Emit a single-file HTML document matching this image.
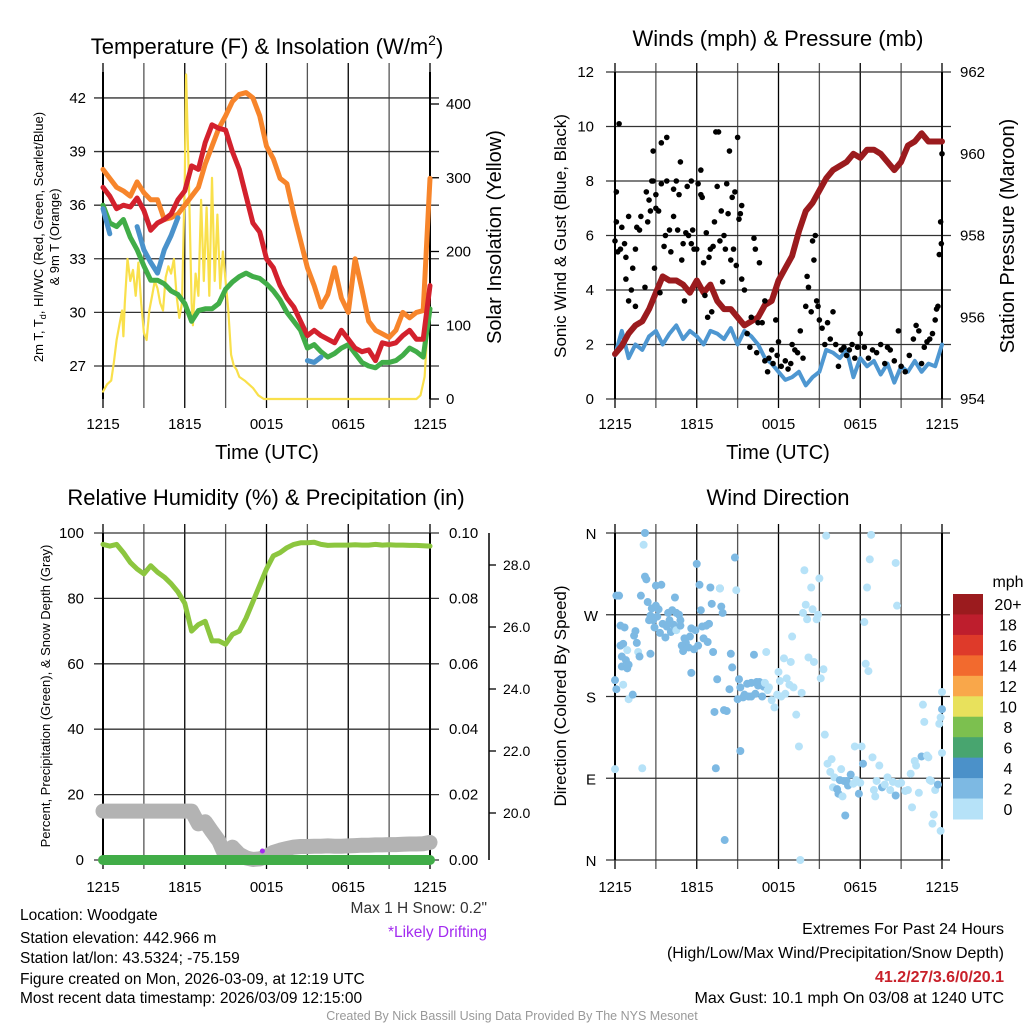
<!DOCTYPE html>
<html><head><meta charset="utf-8"><style>
body{margin:0;background:#fff;}
svg text{font-family:"Liberation Sans",sans-serif;}
</style></head><body>
<svg id="s" width="1024" height="1024" viewBox="0 0 1024 1024" xmlns="http://www.w3.org/2000/svg">
<rect width="1024" height="1024" fill="#fff"/>
<g id="g"></g>
</svg>
<script>
// ---- data (hours since 1215 UTC, half-hour steps) ----
const hours = [];
for (let i = 0; i <= 48; i++) hours.push(i / 2);
const tempOrange = [38,37.5,37,36.8,36.5,37.3,36.7,36.3,36.3,35.2,35.3,35.5,36,36.5,37,38.3,39.3,40.3,41,41.8,42.2,42.3,42,41,39.3,38.6,37.5,37.2,35.5,34,32.5,31.5,30.3,31,32.5,30.8,30,33,31.3,29.5,29,28.8,28.6,29,30,29.7,30,30.1,37.5];
const tempRed = [37,36.5,35.8,36,35.9,36.4,35.7,34.6,35,35.2,35.5,36.3,36.8,38.2,38,39.5,40.5,40.3,40.2,39,38,36.5,35,34.5,33,32.5,31.5,30.8,30.3,29.5,28.7,29,28.7,28.5,28.3,29,28.5,28,27.8,27.9,27.3,28.3,28.2,28.3,28.7,29,28.5,28.5,31.5];
const tempGreen = [36,35,34.8,35.2,34.2,33.5,32.6,31.8,31.8,31.6,31.2,31,30.5,29.5,30.1,30.2,30.2,30.5,31.3,31.7,32,32.2,32,31.9,31.6,31.2,30.7,30,29.5,29,28,28.2,27.8,27.5,27.7,28,28.2,27.7,27.2,27,26.9,27.2,27.2,27.3,27.6,28,27.8,27.5,30.2];
const tempBlue = [35.8,34.4,null,null,null,34.8,33.5,32.8,32.2,33.5,34.3,35.3,null,36.7,null,38.3,null,38.8,null,null,null,null,null,null,null,null,null,null,null,null,27.3,27.2,27.5,null,null,null,null,null,null,null,null,null,null,null,null,null,null,null,null];
const solarHours = [0,0.3,0.6,0.8,1,1.2,1.4,1.5,1.6,1.8,2,2.2,2.4,2.6,2.8,3,3.2,3.4,3.6,3.8,4,4.2,4.4,4.6,4.8,5,5.2,5.4,5.6,5.8,6,6.1,6.3,6.5,6.6,6.8,7,7.2,7.4,7.6,7.8,8,8.2,8.4,8.6,8.8,9,9.2,9.4,9.6,9.8,10,10.4,11,11.4,11.8,23,23.3,23.6,23.8,24];
const solarVals = [10,20,25,50,80,100,120,85,130,190,160,175,140,185,130,90,80,120,140,160,150,130,120,165,180,170,190,140,110,130,300,440,300,130,100,170,140,270,160,260,140,300,160,250,150,200,160,120,60,45,40,30,25,15,5,0,0,5,30,90,150];
const pressure = [955.1,955.3,955.6,955.8,955.9,956.2,956.6,957,956.9,956.9,956.8,956.6,956.9,956.6,956.8,956.4,956.2,956.2,956,955.8,955.9,956,956.3,956.4,956.9,957.2,957.5,958.1,958.6,958.8,959.1,959.4,959.6,959.7,959.8,960,959.9,960.1,960.1,960,959.8,959.6,959.8,960.2,960.3,960.5,960.3,960.3,960.3];
const windSpeed = [1.6,2.5,1.5,2,1.8,2.3,2.5,2,2.4,2.7,2.2,2.5,2.3,2,2.5,2.4,2.2,2.6,2,2.5,2.3,2,1.5,1.3,1,0.7,0.8,1,0.5,0.8,1,1.8,1.7,1.5,1.8,0.8,1.5,1.2,1.4,0.9,1.3,0.6,1.2,1,1.4,1,1.3,1.2,2];
const gustHours = [0,0.1,0.1,0.3,0.2,0.4,0.5,0.7,0.8,0.8,1,1,1.2,1.3,1.5,1.5,1.6,1.8,1.9,2.2,2.3,2.4,2.5,2.6,2.7,2.8,2.8,2.9,3,3,3.2,3.3,3.4,3.4,3.6,3.7,3.8,3.8,4,4.1,4.3,4.3,4.5,4.6,4.7,4.8,4.9,5,5.1,5.2,5.3,5.4,5.6,5.6,5.7,5.8,6,6.1,6.3,6.3,6.4,6.5,6.6,6.7,6.8,6.9,7,7.1,7.2,7.3,7.4,7.5,7.6,7.7,7.8,7.9,8,8.1,8.2,8.3,8.4,8.5,8.6,8.7,8.8,8.9,9,9.1,9.2,9.3,9.3,9.5,9.7,9.9,10,10.2,10.3,10.4,10.5,10.6,10.8,11,11,11.2,11.3,11.5,11.6,11.8,11.9,12,12.2,12.5,12.7,12.9,13,13.2,13.4,13.6,13.8,14,14.1,14.2,14.4,14.5,14.6,14.7,14.8,14.9,15,15.2,15.4,15.6,15.8,16,16.2,16.4,16.6,16.8,17,17.2,17.4,17.6,17.8,18,18.3,18.6,18.9,19.2,19.5,19.8,20,20.2,20.5,20.8,21,21.3,21.6,21.9,22.1,22.3,22.5,22.7,22.9,23.1,23.3,23.5,23.6,23.7,23.8,23.9,23.95,24];
const gustVals = [5.8,7.6,6.5,10.1,5.4,5.5,6.3,5.7,5.2,4.4,6.7,3.6,4,4.8,5.5,3.4,6.3,6.2,6.7,4.1,7.6,6.5,7.3,6.9,8,8,9.1,4.8,7.5,7,6.9,3.9,7.9,9.4,5.6,6,9.6,8,6.2,5.4,7.7,6.7,8,6.2,7.5,8.7,5.1,5.7,3.6,6.1,7.8,6,8,5.7,6.2,5.5,5.5,7.9,8.4,7.5,7.4,5,3.8,6.1,3,5.2,5.5,3.2,5.6,6.5,9.8,7.8,9.8,5.8,6.9,4.3,6,5.5,7.9,6.8,9.1,5.1,7.4,5.5,7.6,4.9,9.6,6.6,6.8,7.1,4.4,4,2.4,1.9,3,5.9,5.5,1.7,2.8,5,2.8,3.6,1.4,1,1.5,1.8,1.3,2.9,1.6,2.1,1.2,1.4,1.1,1.3,2,1.8,1.7,2.5,1.5,3.4,4.5,4.1,3.2,5.8,5.1,6,3.6,3.4,2.9,2.6,2,2.8,2.2,3.2,2,1.2,1.8,1.9,1.6,1.8,2,1.5,1.9,2.4,1.9,1.5,1.8,1.7,2,1.3,1.9,1.8,1.4,2.5,1.2,1,1.6,2.2,2.7,2.5,1.3,1.9,2.1,2.2,2.4,2.9,3.3,3.4,5.3,6.5,5.7,9];
const rh = [96.5,96,96.5,94,91,89,87.5,90,88,86.5,84.5,82,78.5,70,72,73,67,67,66,69,70,74,79,84,89,93,94,95.5,96.5,97,97,97.2,96.5,96.2,96.3,96.3,96.3,96.4,96.3,96.3,96.5,96.3,96.4,96.3,96.3,96.2,96.2,96.1,96];
const snowDepth = [20.06,20.06,20.06,20.06,20.06,20.06,20.06,20.06,20.06,20.06,20.06,20.06,20.06,20.06,19.65,19.72,19.4,19.1,18.6,18.9,18.67,18.55,18.5,18.52,18.6,18.73,18.8,18.85,18.9,18.92,18.92,18.93,18.93,18.94,18.93,18.93,18.94,18.95,18.96,18.96,18.97,18.97,18.98,18.98,18.99,19,19,19.01,19.05];
const precip = [0,0,0,0,0,0,0,0,0,0,0,0,0,0,0,0,0,0,0,0,0,0,0,0,0,0,0,0,0,0,0,0,0,0,0,0,0,0,0,0,0,0,0,0,0,0,0,0,0];
const dirHours = [0,0,0.1,0.1,0.3,0.4,0.4,0.5,0.5,0.6,0.6,0.7,0.8,0.9,0.9,1,1,1.3,1.4,1.5,1.6,1.7,1.8,1.9,2,2.1,2.2,2.2,2.3,2.4,2.5,2.6,2.6,2.7,2.8,2.9,3,3,3.1,3.2,3.3,3.4,3.5,3.7,3.8,3.9,4,4.1,4.2,4.3,4.4,4.5,4.5,4.7,4.8,4.8,4.9,5,5.1,5.2,5.4,5.5,5.6,5.6,5.8,5.9,6,6.1,6.2,6.3,6.4,6.5,6.7,6.8,6.9,7,7.1,7.2,7.3,7.4,7.5,7.7,7.7,7.8,7.9,8,8.05,8.2,8.4,8.5,8.6,8.8,8.9,9,9.1,9.2,9.2,9.4,9.5,9.7,9.8,10,10,10.2,10.3,10.4,10.5,10.6,10.8,10.9,11,11.1,11.2,11.3,11.5,11.7,11.9,12,12.1,12.2,12.4,12.5,12.6,12.8,12.9,13,13.1,13.3,13.5,13.6,13.7,13.8,13.9,14,14.1,14.2,14.4,14.5,14.6,14.8,14.9,15,15.1,15.3,15.4,15.5,15.6,15.8,15.9,16,16.1,16.3,16.4,16.5,16.6,16.7,16.8,16.9,17,17.1,17.3,17.5,17.6,17.7,17.9,18,18.1,18.2,18.3,18.4,18.5,18.6,18.7,18.8,18.9,19,19.1,19.2,19.4,19.6,19.8,20,20.2,20.4,20.6,20.6,20.7,20.8,21,21.3,21.5,21.7,21.8,22,22.1,22.3,22.5,22.6,22.7,22.9,23,23.1,23.2,23.3,23.4,23.5,23.7,23.8,23.9,23.9,24,24,24];
const dirDeg = [100,198,188,291,291,236,258,224,213,238,193,256,220,211,231,215,177,182,247,252,239,229,224,291,101,347,360,312,309,284,264,269,227,277,264,256,280,302,268,276,250,303,260,245,257,272,264,251,275,259,289,272,253,270,264,258,236,230,244,239,234,246,255,206,232,253,326,236,303,275,257,244,258,240,260,300,282,229,163,101,199,299,299,279,272,165,22,164,188,227,212,333,297,177,199,120,190,179,182,194,180,195,180,226,183,196,192,196,180,191,195,229,187,190,176,168,182,207,197,180,222,183,200,193,218,246,190,160,125,0,184,272,319,281,265,223,300,276,218,265,270,310,200,210,138,357,106,97,111,80,91,78,73,88,100,70,87,49,87,82,94,84,125,88,73,85,125,106,262,216,300,208,331,358,113,77,70,87,104,80,83,91,77,86,71,327,280,84,85,76,77,95,58,109,104,74,114,171,152,115,113,88,87,40,50,77,83,150,32,157,118,185,166];
const dirSpeed = [1,3,3,3,3,3,3,3,3,3,1,3,3,3,1,3,1,3,3,3,3,1,3,3,1,1,3,3,3,3,3,3,3,3,3,3,3,3,3,3,3,3,3,3,3,3,3,3,3,3,3,3,1,3,3,3,3,3,3,3,3,3,3,3,3,3,3,3,3,3,3,3,3,3,3,3,3,3,3,3,3,3,1,3,3,3,3,3,3,3,3,3,1,3,3,3,3,3,3,3,3,3,3,3,3,3,3,3,3,3,1,1,1,1,1,1,1,1,1,1,1,1,1,1,1,1,1,1,1,1,1,1,1,1,1,1,1,1,1,1,1,1,1,1,1,1,1,1,1,1,1,3,3,3,1,1,3,3,3,3,3,1,1,1,3,1,1,3,1,1,1,1,1,1,1,1,1,1,1,3,1,1,1,1,3,1,1,1,1,1,1,1,1,1,1,1,3,1,1,1,1,1,1,1,1,1,3,1,1,1,1,1,3,3];
const colorbarLabels = ["20+","18","16","14","12","10","8","6","4","2","0"];
const colorbarColors = ["#9b1b1e","#be1e2d","#de3a2a","#f26a2e","#f9a74a","#e8e15c","#7cc04f","#48a56f","#4b91c9","#7db9e3","#b6e2f8"];
const timeTicks = ["1215","1815","0015","0615","1215"];
const tempTicks = [27,30,33,36,39,42];
const solarTicks = [0,100,200,300,400];
const windTicks = [0,2,4,6,8,10,12];
const presTicks = [954,956,958,960,962];
const rhTicks = [0,20,40,60,80,100];
const precipTicks = ["0.00","0.02","0.04","0.06","0.08","0.10"];
const snowTicks = [20,22,24,26,28];
const dirTicks = ["N","E","S","W","N"];

const NS = "http://www.w3.org/2000/svg";
const root = document.getElementById('g');
function el(tag, attrs, parent, txt) {
  const e = document.createElementNS(NS, tag);
  for (const k in attrs) e.setAttribute(k, attrs[k]);
  if (txt !== undefined) e.textContent = txt;
  (parent || root).appendChild(e);
  return e;
}
function grp(name) {
  const g = el('g', {});
  
  
  return g;
}
function path(xs, ys, xf, yf, color, w, name, parent) {
  let d = '', pen = false;
  for (let i = 0; i < xs.length; i++) {
    if (ys[i] === null) { pen = false; continue; }
    d += (pen ? 'L' : 'M') + xf(xs[i]).toFixed(1) + ',' + yf(ys[i]).toFixed(1);
    pen = true;
  }
  const p = el('path', {d: d, fill: 'none', stroke: color, 'stroke-width': w, 'stroke-linejoin': 'round', 'stroke-linecap': 'round'}, parent);
  
  
  return p;
}
function txt(x, y, s, size, anchor, parent, name, extra) {
  const a = Object.assign({x: x, y: y, 'font-size': size, 'text-anchor': anchor || 'middle', fill: '#000'}, extra || {});
  const t = el('text', a, parent, s);
  
  
  return t;
}
function vtxt(x, y, s, size, parent, name) {
  return txt(0, 0, s, size, 'middle', parent, name, {transform: 'translate(' + x + ',' + y + ') rotate(-90)'});
}

function frame(g, L, R, T, B, yGridVals, yf, timeLabelY, hGridExtR) {
  const xf = h => L + h * (R - L) / 24;
  for (let h = 0; h <= 24; h += 3) {
    el('line', {x1: xf(h), x2: xf(h), y1: T - 9, y2: B + 9, stroke: (h % 6 === 0) ? '#000' : '#555', 'stroke-width': 1.3}, g);
  }
  yGridVals.forEach(v => el('line', {x1: L - 9, x2: hGridExtR || (R + 9), y1: yf(v), y2: yf(v), stroke: '#333', 'stroke-width': 1.3}, g));
  el('line', {x1: L, x2: L, y1: T, y2: B, stroke: '#000', 'stroke-width': 2}, g);
  el('line', {x1: R, x2: R, y1: T, y2: B, stroke: '#000', 'stroke-width': 2}, g);
  timeTicks.forEach((t, i) => txt(xf(i * 6), timeLabelY, t, 15, 'middle', g, 'x-tick-label'));
  return xf;
}

// ---- Panel 1: Temperature ----
(function () {
  const g = grp('temperature-panel');
  const L = 103, R = 430, T = 72, B = 399;
  const yT = v => 366 - (v - 27) * 17.87;
  const yS = v => 399 - v * 0.7375;
  const xf = frame(g, L, R, T, B, tempTicks, yT, 429);
  solarTicks.forEach(v => { el('line', {x1: R, x2: R + 9, y1: yS(v), y2: yS(v), stroke: '#000', 'stroke-width': 1.3}, g); txt(446, yS(v) + 5, String(v), 15, 'start', g, 'right-tick-label'); });
  tempTicks.forEach(v => txt(86, yT(v) + 5, String(v), 15, 'end', g, 'left-tick-label'));
  path(solarHours, solarVals, xf, yS, '#f9e04b', 2.2, 'solar-insolation-line', g);
  path(hours, tempOrange, xf, yT, '#f7852b', 5, 'temp-9m-line', g);
  path(hours, tempGreen, xf, yT, '#41ad48', 5, 'dewpoint-line', g);
  path(hours, tempRed, xf, yT, '#d3212d', 5, 'temp-2m-line', g);
  path(hours, tempBlue, xf, yT, '#4a92cb', 5, 'heat-index-windchill-line', g);
  txt(267, 54, 'Temperature (F) & Insolation (W/m', 22, 'middle', g, 'chart-title').innerHTML = 'Temperature (F) &amp; Insolation (W/m<tspan font-size="14" dy="-9">2</tspan><tspan dy="9">)</tspan>';
  txt(267, 459, 'Time (UTC)', 20, 'middle', g, 'x-axis-title');
  const t1 = vtxt(43, 237, '', 13, g, 'y-axis-title');
  t1.innerHTML = '2m T, T<tspan font-size="9" dy="3">d</tspan><tspan dy="-3">, HI/WC (Red, Green, Scarlet/Blue)</tspan>';
  vtxt(59, 237, '& 9m T (Orange)', 13, g, 'y-axis-title-line2');
  vtxt(501, 237, 'Solar Insolation (Yellow)', 20, g, 'right-axis-title');
})();

// ---- Panel 2: Winds ----
(function () {
  const g = grp('winds-panel');
  const L = 615, R = 942, T = 72, B = 399;
  const yW = v => 399 - v * 27.25;
  const yP = v => 399 - (v - 954) * 40.875;
  const xf = frame(g, L, R, T, B, windTicks, yW, 429);
  windTicks.forEach(v => txt(594, yW(v) + 5, String(v), 15, 'end', g, 'left-tick-label'));
  presTicks.forEach(v => txt(960, yP(v) + 5, String(v), 15, 'start', g, 'right-tick-label'));
  path(hours, windSpeed, xf, yW, '#4e97d1', 4, 'sonic-wind-line', g);
  path(hours, pressure, xf, yP, '#9b1b1e', 6, 'pressure-line', g);
  for (let i = 0; i < gustHours.length; i++) {
    const c = el('circle', {cx: xf(gustHours[i]), cy: yW(gustVals[i]), r: 2.8, fill: '#000'}, g);
    
    
  }
  txt(778, 46, 'Winds (mph) & Pressure (mb)', 22, 'middle', g, 'chart-title');
  txt(778, 459, 'Time (UTC)', 20, 'middle', g, 'x-axis-title');
  vtxt(566, 236, 'Sonic Wind & Gust (Blue, Black)', 17, g, 'y-axis-title');
  vtxt(1014, 236, 'Station Pressure (Maroon)', 20, g, 'right-axis-title');
})();

// ---- Panel 3: RH ----
(function () {
  const g = grp('humidity-panel');
  const L = 103, R = 430, T = 533, B = 860;
  const yR = v => 860 - v * 3.27;
  const yS = v => 813 - (v - 20) * 31;
  const xf = frame(g, L, R, T, B, rhTicks, yR, 892);
  rhTicks.forEach(v => txt(84, yR(v) + 5, String(v), 15, 'end', g, 'left-tick-label'));
  precipTicks.forEach((v, i) => txt(449, yR(i * 20) + 5, v, 15, 'start', g, 'precip-tick-label'));
  el('line', {x1: 489, x2: 489, y1: 533, y2: 860, stroke: '#000', 'stroke-width': 1.5}, g);
  snowTicks.forEach(v => { el('line', {x1: 489, x2: 496, y1: yS(v), y2: yS(v), stroke: '#000', 'stroke-width': 1.3}, g); txt(503, yS(v) + 5, v.toFixed(1), 14, 'start', g, 'snow-tick-label'); });
  path(hours, snowDepth, xf, yS, '#b3b3b3', 15, 'snow-depth-line', g);
  path(hours, precip, h => xf(h), v => yR(v * 1000), '#41ad48', 10, 'precip-line', g);
  path(hours, rh, xf, yR, '#8cc63f', 5, 'rh-line', g);
  const d = el('circle', {cx: xf(11.7), cy: 851, r: 2.5, fill: '#a32cf0'}, g);
  
  
  txt(266, 505, 'Relative Humidity (%) & Precipitation (in)', 22, 'middle', g, 'chart-title');
  vtxt(50, 696, 'Percent, Precipitation (Green), & Snow Depth (Gray)', 13, g, 'y-axis-title');
})();

// ---- Panel 4: Direction ----
(function () {
  const g = grp('direction-panel');
  const L = 615, R = 942, T = 533, B = 860;
  const yD = v => 860 - v * 327 / 360;
  const xf = frame(g, L, R, T, B, [0, 90, 180, 270, 360], yD, 892, 950);
  dirTicks.forEach((v, i) => txt(591, yD(i * 90) + 6, v, 15, 'middle', g, 'direction-tick-label'));
  const cmap = {1: '#b6e2f8', 3: '#7db9e3', 5: '#4b91c9'};
  for (let i = 0; i < dirHours.length; i++) {
    const c = el('circle', {cx: xf(dirHours[i]), cy: yD(dirDeg[i]), r: 4, fill: cmap[dirSpeed[i]]}, g);
    
    
  }
  txt(778, 505, 'Wind Direction', 22, 'middle', g, 'chart-title');
  vtxt(566, 696, 'Direction (Colored By Speed)', 17, g, 'y-axis-title');
  const lg = grp('speed-colorbar');
  const h = 225 / colorbarColors.length;
  colorbarColors.forEach((c, i) => {
    el('rect', {x: 953, y: 594 + i * h, width: 30, height: h + 0.5, fill: c}, lg);
    txt(1008, 594 + i * h + h / 2 + 6, colorbarLabels[i], 16, 'middle', lg, 'colorbar-label');
  });
  txt(1008, 587, 'mph', 16, 'middle', lg, 'colorbar-title');
})();

// ---- Footer text ----
(function () {
  const g = grp('footer-text');
  const lines = ['Location: Woodgate', 'Station elevation: 442.966 m', 'Station lat/lon: 43.5324; -75.159', 'Figure created on Mon, 2026-03-09, at 12:19 UTC', 'Most recent data timestamp: 2026/03/09 12:15:00'];
  const ys = [920, 943, 963, 984, 1003];
  lines.forEach((s, i) => txt(20, ys[i], s, 15.5, 'start', g, 'station-info'));
  txt(487, 913, 'Max 1 H Snow: 0.2"', 15.5, 'end', g, 'max-snow-text', {fill: '#333'});
  txt(487, 937, '*Likely Drifting', 15.5, 'end', g, 'drifting-note', {fill: '#a32cf0'});
  txt(1004, 934, 'Extremes For Past 24 Hours', 16, 'end', g, 'extremes-title');
  txt(1004, 958, '(High/Low/Max Wind/Precipitation/Snow Depth)', 16, 'end', g, 'extremes-subtitle');
  txt(1004, 982, '41.2/27/3.6/0/20.1', 16, 'end', g, 'extremes-values', {fill: '#c8202a', 'font-weight': 'bold'});
  txt(1004, 1003, 'Max Gust: 10.1 mph On 03/08 at 1240 UTC', 16, 'end', g, 'max-gust-text');
  txt(512, 1020, 'Created By Nick Bassill Using Data Provided By The NYS Mesonet', 12.5, 'middle', g, 'credit-text', {fill: '#999'});
})();
</script>
</body></html>
